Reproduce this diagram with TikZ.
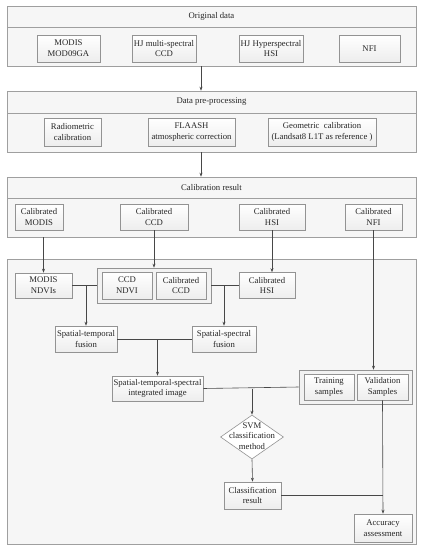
\documentclass[tikz,border=0pt]{standalone}
\usepackage{fontspec}
\setmainfont{Liberation Serif}
\usetikzlibrary{shapes.geometric,arrows.meta,calc}
\begin{document}
\begin{tikzpicture}[x=1pt,y=-1pt,
  txt/.style={font=\fontsize{8.7}{10.8}\selectfont, align=center, text=black!85},
  panel/.style={draw=gray!75, fill=gray!7, line width=0.6pt, inner sep=0pt},
  box/.style={txt, draw=gray!85, top color=white, bottom color=gray!14, line width=0.6pt, inner sep=0pt},
  grp/.style={draw=gray!85, fill=gray!10, line width=0.6pt, inner sep=0pt},
  diam/.style={diamond, draw=gray!85, fill=white, line width=0.6pt, inner sep=0pt},
  conn/.style={draw=black!72, line width=0.6pt},
  arr/.style={conn, -{Stealth[length=4pt,width=3pt]}}
]
\useasboundingbox (0,0) rectangle (423,550);

% panel 1
\node[panel, txt, minimum width=409, minimum height=21] (h1) at (211.5,16.5) {Original data};
\node[panel, minimum width=409, minimum height=39] (b1) at (211.5,46.5) {};
\node[box, minimum width=63, minimum height=27] (m1) at (68.5,48.5) {MODIS\\MOD09GA};
\node[box, minimum width=64, minimum height=27] (m2) at (164,48.5) {HJ multi-spectral\\CCD};
\node[box, minimum width=64, minimum height=27] (m3) at (271,48.5) {HJ Hyperspectral\\HSI};
\node[box, minimum width=61, minimum height=27] (m4) at (369.5,48.5) {NFI};

% panel 2
\node[panel, txt, minimum width=409, minimum height=22] (h2) at (211.5,102) {Data pre-processing};
\node[panel, minimum width=409, minimum height=39] (b2) at (211.5,132.5) {};
\node[box, minimum width=57, minimum height=28] (r1) at (72.5,132) {Radiometric\\calibration};
\node[box, minimum width=87, minimum height=28] (r2) at (191.5,132) {FLAASH\\atmospheric correction};
\node[box, minimum width=108, minimum height=28] (r3) at (322,132) {Geometric\enspace calibration\\(Landsat8 L1T as reference )};

% panel 3
\node[panel, txt, minimum width=409, minimum height=21] (h3) at (211.5,187.5) {Calibration result};
\node[panel, minimum width=409, minimum height=39] (b3) at (211.5,217.5) {};
\node[box, minimum width=48, minimum height=26] (cm) at (39,217) {Calibrated\\MODIS};
\node[box, minimum width=68, minimum height=26] (cc) at (154,217) {Calibrated\\CCD};
\node[box, minimum width=66, minimum height=26] (ch) at (272,217) {Calibrated\\HSI};
\node[box, minimum width=57, minimum height=26] (cn) at (373.5,217) {Calibrated\\NFI};

% panel 4
\node[panel, minimum width=409, minimum height=285] (b4) at (211.5,401.5) {};
\node[box, minimum width=57, minimum height=25] (ndvi) at (43.5,285.5) {MODIS\\NDVIs};
\node[grp, minimum width=114, minimum height=35] (gc) at (154,285.5) {};
\node[box, minimum width=50, minimum height=27] (cn1) at (127,285.5) {CCD\\NDVI};
\node[box, minimum width=50, minimum height=27] (cn2) at (181,285.5) {Calibrated\\CCD};
\node[box, minimum width=56, minimum height=26] (chsi) at (267,285.5) {Calibrated\\HSI};
\node[box, minimum width=62, minimum height=26] (stf) at (86,339) {Spatial-temporal\\fusion};
\node[box, minimum width=64, minimum height=26] (ssf) at (224,339) {Spatial-spectral\\fusion};
\node[box, minimum width=91, minimum height=25] (sts) at (157.5,388.5) {Spatial-temporal-spectral\\integrated image};
\node[grp, minimum width=113, minimum height=34] (tv) at (355.5,387) {};
\node[box, minimum width=50, minimum height=26] (tr) at (329,387) {Training\\samples};
\node[box, minimum width=51, minimum height=26] (va) at (382.5,387) {Validation\\Samples};
\node[diam, minimum width=63, minimum height=44] (svm) at (252,437) {};
\node[txt] (svmt) at ([yshift=1pt]svm.center) {SVM\\classification\\method};
\node[box, minimum width=57, minimum height=27] (cls) at (252.5,495.5) {Classification\\result};
\node[box, minimum width=58, minimum height=28] (acc) at (383,528) {Accuracy\\assessment};

% connectors
\draw[arr] ([xshift=-10.5pt]b1.south) -- ([xshift=-10.5pt]h2.north);
\draw[arr] ([xshift=-10.5pt]b2.south) -- ([xshift=-10.5pt]h3.north);
\draw[arr] (ndvi.north |- b3.south) -- (ndvi.north);
\draw[arr] (cc.south) -- (gc.north);
\draw[arr] (ch.south) -- (ch.south |- chsi.north);
\draw[arr] (cn.south) -- (cn.south |- tv.north);

\coordinate (j1) at (stf.north |- ndvi.east);
\coordinate (j2) at (ssf.north |- gc.east);
\coordinate (j3) at (sts.north |- stf.east);
\coordinate (j4) at (svm.north |- sts.east);
\coordinate (j5) at (va.south |- cls.east);
\draw[conn] (ndvi.east) -- (gc.west);
\draw[arr] (j1) -- (stf.north);
\draw[conn] (gc.east) -- (chsi.west);
\draw[arr] (j2) -- (ssf.north);
\draw[conn] (stf.east) -- (ssf.west);
\draw[arr] (j3) -- (sts.north);
\draw[conn] (sts.east) -- (tv.west);
\draw[arr] (j4) -- (svm.north);
\draw[arr] (svm.south) -- (cls.north);
\draw[conn] (cls.east) -- (j5);
\draw[arr] (va.south) -- (acc.north);
\end{tikzpicture}
\end{document}
